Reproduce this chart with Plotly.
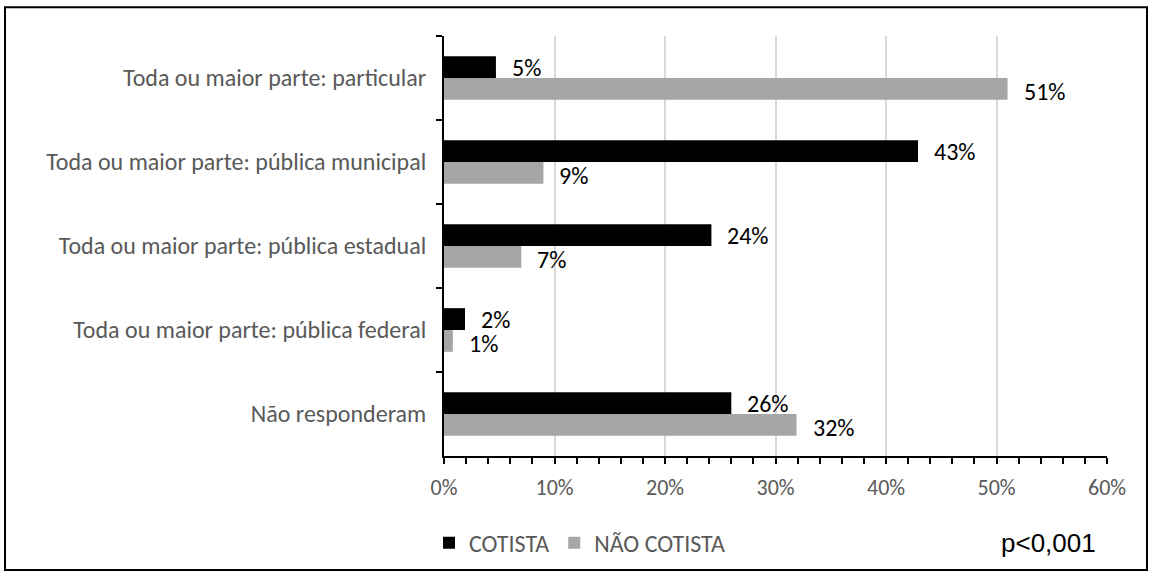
import plotly.graph_objects as go

categories = [
    "Toda ou maior parte: particular",
    "Toda ou maior parte: pública municipal",
    "Toda ou maior parte: pública estadual",
    "Toda ou maior parte: pública federal",
    "Não responderam",
]
cotista = [4.7, 42.9, 24.2, 1.9, 26.0]
nao_cotista = [51.0, 9.0, 7.0, 0.8, 31.9]
cotista_labels = ["5%", "43%", "24%", "2%", "26%"]
nao_cotista_labels = ["51%", "9%", "7%", "1%", "32%"]
x_ticks = [0, 10, 20, 30, 40, 50, 60]
x_tick_labels = ["0%", "10%", "20%", "30%", "40%", "50%", "60%"]
p_text = "p<0,001"

FONT = "Carlito, Lato, sans-serif"
GREY_TXT = "#595959"

W, H = 1152, 578
L, R, T, B = 444, 45, 36, 118
pw, ph = W - L - R, H - T - B
def px_x(px):
    return (px - L) / pw
def px_y(py):
    return (H - B - py) / ph

fig = go.Figure()
fig.add_trace(go.Bar(y=categories, x=cotista, orientation="h", name="COTISTA",
                     marker=dict(color="#000000", line=dict(width=0)), hoverinfo="skip"))
fig.add_trace(go.Bar(y=categories, x=nao_cotista, orientation="h", name="NÃO COTISTA",
                     marker=dict(color="#a6a6a6", line=dict(width=0)), hoverinfo="skip"))

annotations = []
for cat, v, t in zip(categories, cotista, cotista_labels):
    annotations.append(dict(x=v, y=cat, text=t, showarrow=False, xanchor="left", yanchor="middle",
                            xshift=14, yshift=11, font=dict(family=FONT, size=24, color="#000000")))
for cat, v, t in zip(categories, nao_cotista, nao_cotista_labels):
    annotations.append(dict(x=v, y=cat, text=t, showarrow=False, xanchor="left", yanchor="middle",
                            xshift=14, yshift=-13, font=dict(family=FONT, size=24, color="#000000")))
annotations.append(dict(x=px_x(1048), y=px_y(548), xref="paper", yref="paper", text=p_text,
                        showarrow=False, xanchor="center", yanchor="middle",
                        font=dict(family="Liberation Sans, Arial", size=26, color="#000000")))

fig.update_layout(
    width=W, height=H,
    margin=dict(l=L, r=R, t=T, b=B),
    paper_bgcolor="white", plot_bgcolor="white",
    barmode="group", bargap=0.48, bargroupgap=0,
    font=dict(family=FONT, color=GREY_TXT),
    showlegend=True,
    legend=dict(orientation="h", x=px_x(429), y=px_y(548), xanchor="left", yanchor="middle",
                font=dict(family=FONT, size=24, color=GREY_TXT), itemwidth=30,
                traceorder="normal"),
    annotations=annotations,
    shapes=[dict(type="rect", xref="paper", yref="paper",
                 x0=px_x(5), x1=px_x(1147), y0=px_y(575), y1=px_y(7),
                 line=dict(color="black", width=2), fillcolor="rgba(0,0,0,0)", layer="below")],
)
fig.update_xaxes(range=[0, 60], tickvals=x_ticks, ticktext=x_tick_labels,
                 showgrid=True, gridcolor="#d9d9d9", gridwidth=2,
                 showline=True, linecolor="black", linewidth=2,
                 ticks="outside", ticklen=6, tickcolor="black", tickwidth=1.5,
                 minor=dict(dtick=2, ticks="outside", ticklen=6, tickcolor="black", tickwidth=1.5, showgrid=False),
                 tickfont=dict(family=FONT, size=22, color=GREY_TXT), zeroline=False,
                 ticklabelstandoff=5)
fig.update_yaxes(type="category", autorange="reversed", tickson="boundaries",
                 showline=True, linecolor="black", linewidth=2,
                 ticks="outside", ticklen=6, tickcolor="black", tickwidth=1.5,
                 showgrid=False, tickfont=dict(family=FONT, size=24, color=GREY_TXT),
                 ticklabelstandoff=11)

fig.write_html("out.html", config={"displayModeBar": False},
               post_script="document.body.style.margin='0';")
